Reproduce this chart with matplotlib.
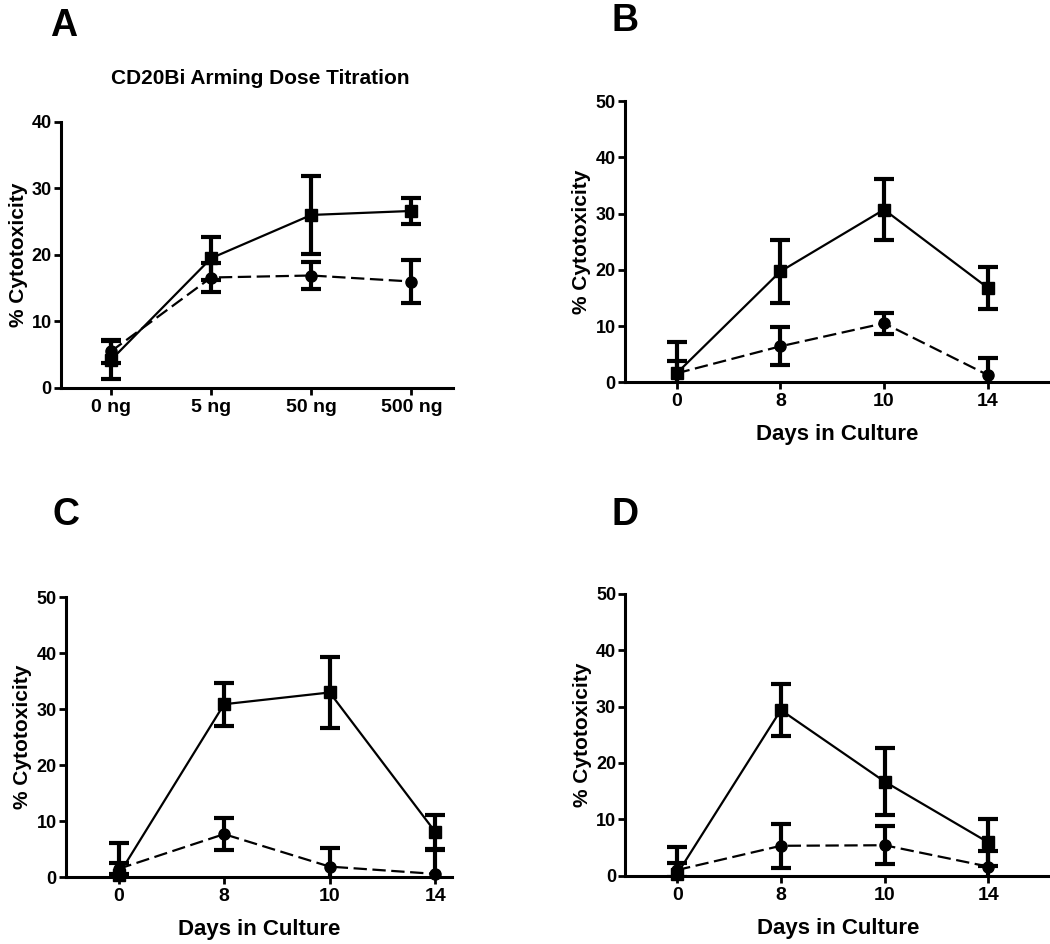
import matplotlib.pyplot as plt

plt.rcParams['font.family'] = ['Liberation Sans', 'DejaVu Sans']
plt.rcParams['font.weight'] = 'bold'

# Data
dose_labels = ['0 ng', '5 ng', '50 ng', '500 ng']
day_labels = ['0', '8', '10', '14']

# Panel A: arming dose titration
a_sq = [4.2, 19.5, 26.0, 26.6]
a_sq_err = [2.8, 3.2, 5.9, 1.9]
a_ci = [5.5, 16.6, 16.9, 16.0]
a_ci_err = [1.7, 2.2, 2.0, 3.2]

# Panel B
b_sq = [1.6, 19.7, 30.7, 16.8]
b_sq_err = [5.6, 5.6, 5.4, 3.7]
b_ci = [1.6, 6.4, 10.5, 1.3]
b_ci_err = [2.2, 3.4, 1.9, 3.0]

# Panel C
c_sq = [0.4, 30.9, 33.0, 8.1]
c_sq_err = [5.7, 3.8, 6.4, 3.0]
c_ci = [1.5, 7.7, 1.9, 0.6]
c_ci_err = [1.0, 2.8, 3.4, 4.3]

# Panel D
d_sq = [0.3, 29.4, 16.7, 5.9]
d_sq_err = [4.7, 4.7, 6.0, 4.2]
d_ci = [1.0, 5.3, 5.4, 1.6]
d_ci_err = [1.2, 3.9, 3.4, 2.8]

W, H = 1050, 944
fig = plt.figure(figsize=(W / 100, H / 100), dpi=100)

# letter, axes rect, xlim right, ymax, tick labels, xlabel, letter pos (px)
panels = [
    ('A', [0.058, 0.589, 0.373, 0.282], 3.41, 40, dose_labels, None, (50, 8), a_sq, a_sq_err, a_ci, a_ci_err),
    ('B', [0.595, 0.595, 0.405, 0.298], 3.6, 50, day_labels, 'Days in Culture', (612, 3), b_sq, b_sq_err, b_ci, b_ci_err),
    ('C', [0.0626, 0.0707, 0.368, 0.2966], 3.16, 50, day_labels, 'Days in Culture', (52, 497), c_sq, c_sq_err, c_ci, c_ci_err),
    ('D', [0.5955, 0.0724, 0.405, 0.2984], 3.6, 50, day_labels, 'Days in Culture', (612, 497), d_sq, d_sq_err, d_ci, d_ci_err),
]

for letter, rect, xr, ymax, xt, xlab, lpos, sq, sq_err, ci, ci_err in panels:
    ax = fig.add_axes(rect)
    x = list(range(len(xt)))
    for vals, errs, style, mk, ms in [(ci, ci_err, (0, (6, 2.5)), 'o', 8),
                                      (sq, sq_err, '-', 's', 9)]:
        line, caps, bars = ax.errorbar(x, vals, yerr=errs, color='black', lw=1.6, ls=style,
                                       marker=mk, ms=ms, elinewidth=3, capsize=7, capthick=3)
        line.set_clip_on(False)
    ax.set_xlim(-0.5, xr)
    ax.set_ylim(0, ymax)
    ax.set_yticks(range(0, ymax + 1, 10))
    ax.set_xticks(x)
    ax.set_xticklabels(xt)
    for s in ['top', 'right']:
        ax.spines[s].set_visible(False)
    for s in ['left', 'bottom']:
        ax.spines[s].set_linewidth(2.2)
    ax.tick_params(axis='both', width=2, length=5, direction='out')
    ax.tick_params(axis='y', labelsize=13, pad=1.5)
    ax.tick_params(axis='x', labelsize=14, pad=3)
    for lab in ax.get_xticklabels() + ax.get_yticklabels():
        lab.set_fontweight('bold')
    ax.set_ylabel('% Cytotoxicity', fontsize=15, fontweight='bold', labelpad=3)
    if xlab:
        ax.set_xlabel(xlab, fontsize=16, fontweight='bold', labelpad=10)
    fig.text(lpos[0] / W, 1 - lpos[1] / H, letter, fontsize=27, fontweight='bold',
             ha='left', va='top')

fig.text(0.248, 1 - 78 / H, 'CD20Bi Arming Dose Titration', fontsize=15,
         fontweight='bold', ha='center', va='center')

plt.savefig('out.png', dpi=100)
